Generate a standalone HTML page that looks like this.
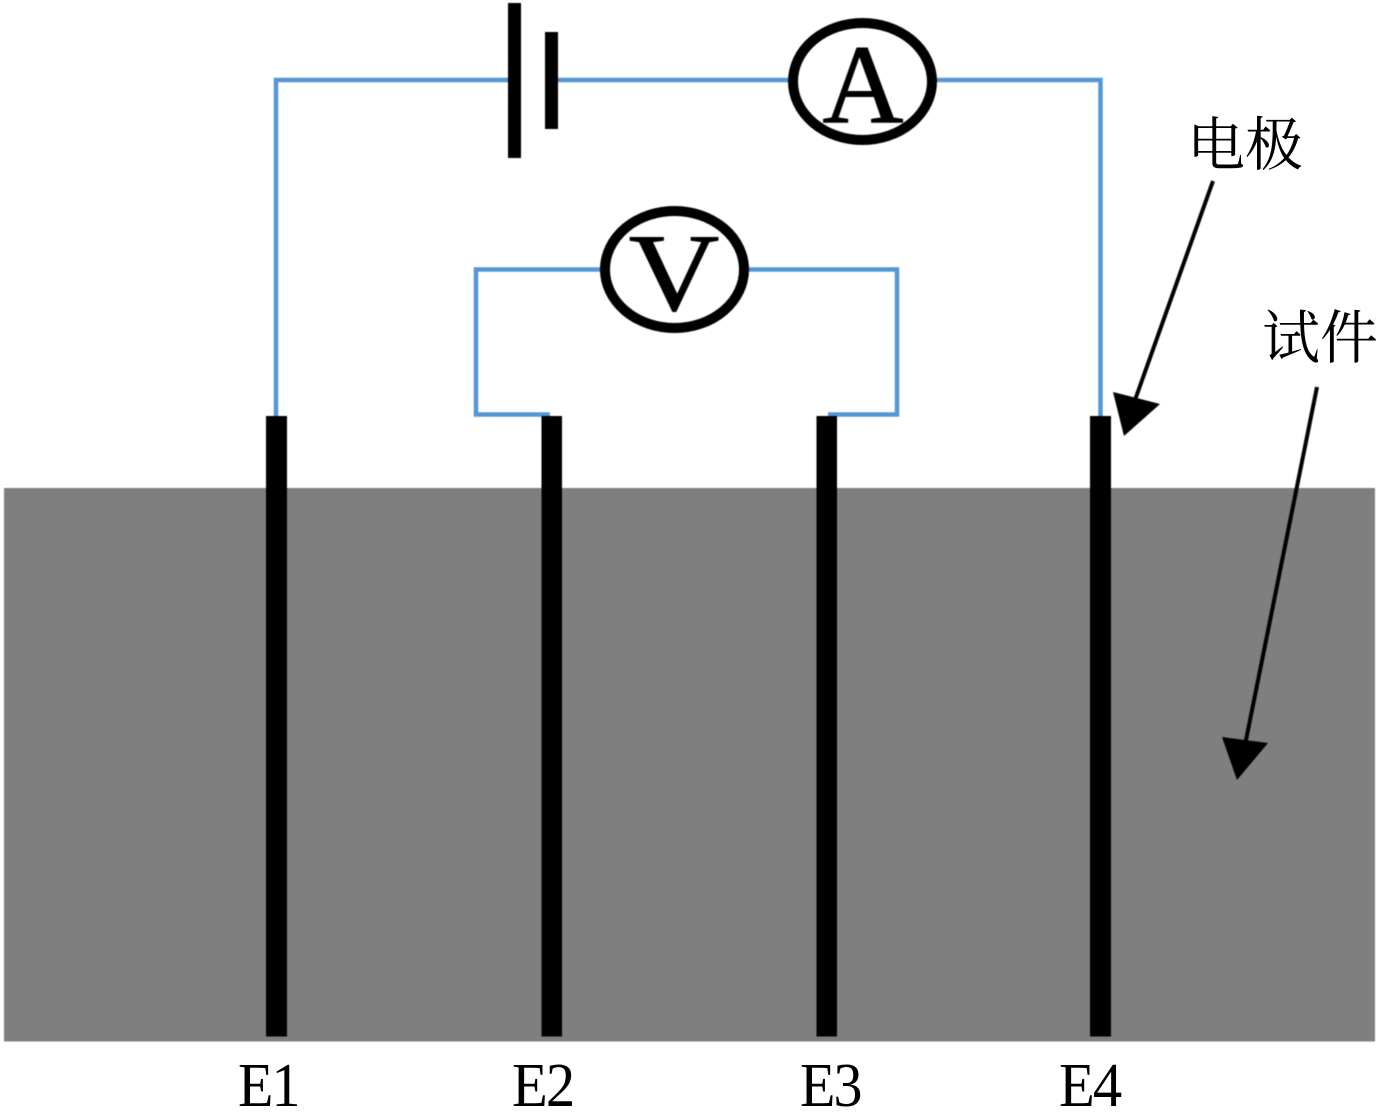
<!DOCTYPE html>
<html>
<head>
<meta charset="utf-8">
<style>
html,body{margin:0;padding:0;background:#fff;}
svg{display:block;}
.soft{filter:blur(0.5px);}
</style>
</head>
<body>
<svg width="1378" height="1112" viewBox="0 0 1378 1112" xmlns="http://www.w3.org/2000/svg">
<rect width="1378" height="1112" fill="#fff"/>
<g class="soft">
<rect x="4" y="488" width="1371" height="553.5" fill="#7f7f7f"/>
<g fill="none" stroke="#5596d6" stroke-width="4.5">
<path d="M276 416V80H510M556 80H790M936 80H1100.5V416"/>
<path d="M550 414.500H476V269.500H602M748 269.500H897V414.500H828"/>
</g>
<g fill="#000">
<rect x="266" y="416" width="21" height="620.500"/>
<rect x="541.500" y="416" width="20.500" height="620.500"/>
<rect x="816.500" y="416" width="20.500" height="620.500"/>
<rect x="1090" y="416" width="21" height="620.500"/>
<rect x="508" y="3" width="13" height="155"/>
<rect x="545" y="32" width="13" height="97"/>
</g>
<ellipse cx="862.500" cy="81.500" rx="69.500" ry="58.500" fill="#fff" stroke="#000" stroke-width="10"/>
<ellipse cx="674.500" cy="269.500" rx="69.500" ry="58.500" fill="#fff" stroke="#000" stroke-width="10"/>
<g font-family="'Liberation Serif',serif" fill="#000" stroke="#000" stroke-width="1" text-anchor="middle">
<text x="863" y="122" font-size="112">A</text>
<text transform="translate(674 310) scale(1.14 1)" x="0" y="0" font-size="110">V</text>
</g>
<g stroke="#000" stroke-width="4" fill="none">
<path d="M1213 181L1135 400"/>
<path d="M1317 387L1245 745"/>
</g>
<g fill="#000">
<polygon points="1124,436 1113,392 1160,404"/>
<polygon points="1237,780 1222,737 1268,743"/>
</g>
</g>
<g font-family="'Liberation Serif',serif" font-size="63" fill="#000" letter-spacing="-2">
<text transform="translate(238 1106) scale(0.92 1)">E1</text>
<text transform="translate(512 1106) scale(0.93 1)">E2</text>
<text transform="translate(800 1106) scale(0.92 1)">E3</text>
<text transform="translate(1059 1106) scale(0.93 1)">E4</text>
</g>
<g font-family="'Liberation Serif','Noto Serif CJK SC',serif" font-size="58" fill="#000">
<text x="1187" y="165">电极</text>
<text x="1262" y="358">试件</text>
</g>
</svg>
</body>
</html>
